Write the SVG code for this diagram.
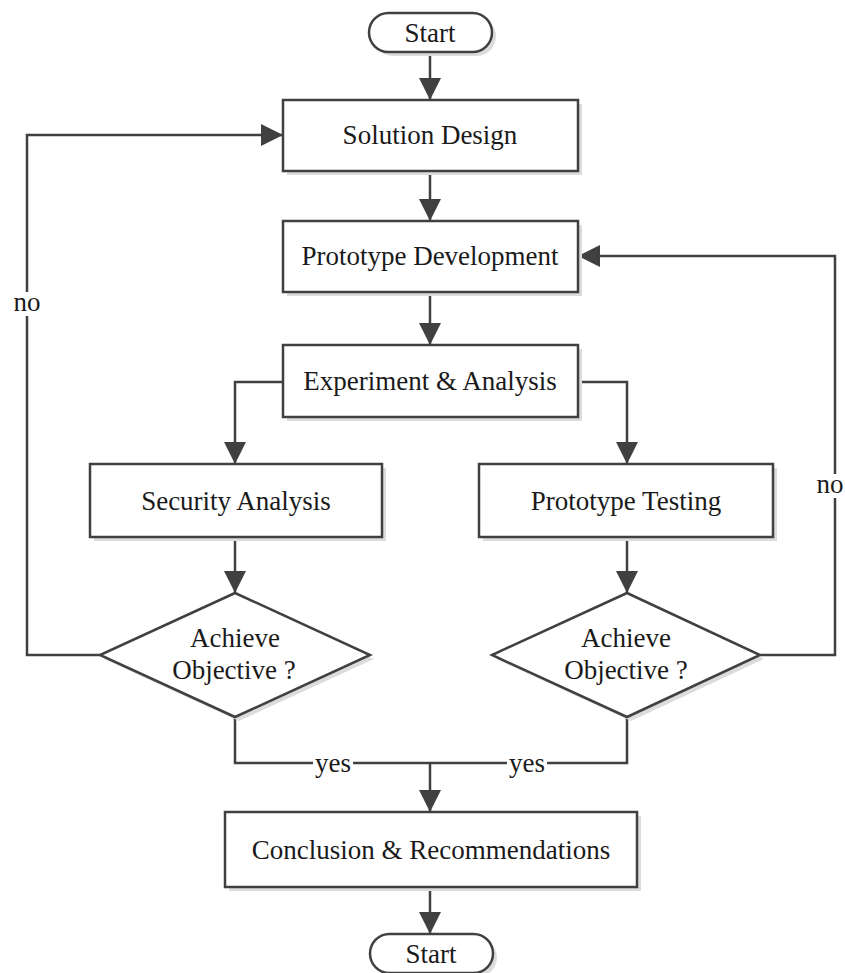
<svg xmlns="http://www.w3.org/2000/svg" width="845" height="973" viewBox="0 0 845 973" font-family="'Liberation Serif', 'Times New Roman', Times, serif">
<defs>
<style>
.shape{fill:#fff;stroke:#404040;stroke-width:2.5}
.shadow{fill:#dcdcdc;stroke:none}
.t{font-size:27px;fill:#1a1a1a;text-anchor:middle}
.edge{fill:none;stroke:#404040;stroke-width:2.5}
.arr{marker-end:url(#ah)}
.lblbg{fill:#fff}
</style>
<marker id="ah" markerUnits="userSpaceOnUse" markerWidth="22" markerHeight="22" viewBox="0 0 22 22" refX="22" refY="11" orient="auto">
<path d="M0,0 L22,11 L0,22 z" fill="#404040"/>
</marker>
</defs>
<rect width="845" height="973" fill="#fff"/>

<g id="connectors">
<path class="edge arr" d="M430,52 V100"/>
<path class="edge arr" d="M430,171 V221"/>
<path class="edge arr" d="M430,292 V345"/>
<path class="edge arr" d="M283,382 H235 V464"/>
<path class="edge arr" d="M578,382 H627 V464"/>
<path class="edge arr" d="M235,537 V593"/>
<path class="edge arr" d="M627,537 V593"/>
<path class="edge arr" d="M100,655 H27 V135 H283"/>
<path class="edge arr" d="M760,655 H835 V256 H578"/>
<path class="edge" d="M235,717 V763 H627 V717"/>
<path class="edge arr" d="M430,763 V812"/>
<path class="edge arr" d="M430,887 V934"/>
<rect class="lblbg" x="313" y="752" width="40" height="22"/>
<rect class="lblbg" x="507" y="752" width="40" height="22"/>
<text class="t" x="333" y="772">yes</text>
<text class="t" x="527" y="772">yes</text>
<rect class="lblbg" x="12" y="292" width="30" height="24"/>
<text class="t" x="27" y="311">no</text>
<rect class="lblbg" x="820" y="474" width="30" height="24"/>
<text class="t" x="830" y="493">no</text>
</g>

<g id="start">
<rect class="shadow" x="373" y="17" width="123" height="39" rx="19.5"/>
<rect class="shape" x="369" y="13" width="123" height="39" rx="19.5"/>
<text class="t" x="430" y="42">Start</text>
</g>

<g id="solution-design">
<rect class="shadow" x="287" y="104" width="295" height="71"/>
<rect class="shape" x="283" y="100" width="295" height="71"/>
<text class="t" x="430" y="144">Solution Design</text>
</g>

<g id="prototype-development">
<rect class="shadow" x="287" y="225" width="295" height="71"/>
<rect class="shape" x="283" y="221" width="295" height="71"/>
<text class="t" x="430" y="265">Prototype Development</text>
</g>

<g id="experiment-analysis">
<rect class="shadow" x="287" y="349" width="295" height="72"/>
<rect class="shape" x="283" y="345" width="295" height="72"/>
<text class="t" x="430" y="390">Experiment &amp; Analysis</text>
</g>

<g id="security-analysis">
<rect class="shadow" x="94" y="468" width="292" height="73"/>
<rect class="shape" x="90" y="464" width="292" height="73"/>
<text class="t" x="236" y="510">Security Analysis</text>
</g>

<g id="prototype-testing">
<rect class="shadow" x="483" y="468" width="294" height="73"/>
<rect class="shape" x="479" y="464" width="294" height="73"/>
<text class="t" x="626" y="510">Prototype Testing</text>
</g>

<g id="decision-left">
<polygon class="shadow" points="239,597 374,659 239,721 104,659"/>
<polygon class="shape" points="235,593 370,655 235,717 100,655"/>
<text class="t" x="235" y="647">Achieve</text>
<text class="t" x="234" y="679">Objective ?</text>
</g>

<g id="decision-right">
<polygon class="shadow" points="631,597 764,659 631,721 496,659"/>
<polygon class="shape" points="627,593 760,655 627,717 492,655"/>
<text class="t" x="626" y="647">Achieve</text>
<text class="t" x="626" y="679">Objective ?</text>
</g>

<g id="conclusion">
<rect class="shadow" x="229" y="816" width="412" height="75"/>
<rect class="shape" x="225" y="812" width="412" height="75"/>
<text class="t" x="431" y="859">Conclusion &amp; Recommendations</text>
</g>

<g id="end">
<rect class="shadow" x="374" y="938" width="123" height="39" rx="19.5"/>
<rect class="shape" x="370" y="934" width="123" height="39" rx="19.5"/>
<text class="t" x="431" y="963">Start</text>
</g>
</svg>
